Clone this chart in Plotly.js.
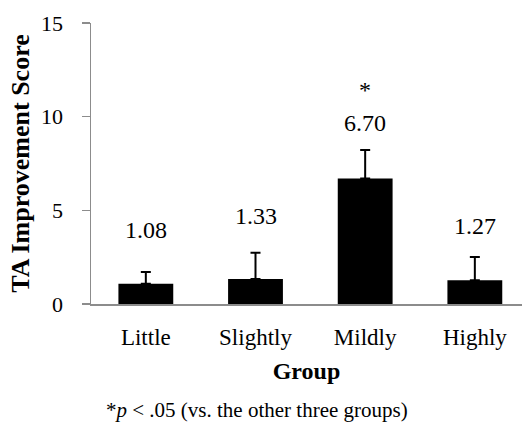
<!DOCTYPE html>
<html>
<head>
<meta charset="utf-8">
<script src="https://cdn.plot.ly/plotly-3.0.1.min.js"></script>
<style>html,body{margin:0;padding:0;background:#fff;}#chart{width:522px;height:424px;}</style>
</head>
<body>
<div id="chart"></div>
<script>
// ---- data ----
var groups = ["Little", "Slightly", "Mildly", "Highly"];
var means = [1.08, 1.33, 6.70, 1.27];
var errorsUp = [0.63, 1.40, 1.52, 1.24];
var valueLabels = ["1.08", "1.33", "6.70", "1.27"];
var significant = [false, false, true, false];
var yTicks = [0, 5, 10, 15];

// ---- layout helpers (label placement, not data) ----
var labelY = [3.95, 4.70, 9.66, 4.16];
var starY = 11.45;

var font = "Liberation Serif";

var annotations = [];
for (var i = 0; i < groups.length; i++) {
  annotations.push({
    x: groups[i], y: labelY[i], xref: "x", yref: "y",
    text: valueLabels[i], showarrow: false,
    font: {family: font, size: 24, color: "#000"},
    xanchor: "center", yanchor: "middle"
  });
  if (significant[i]) {
    annotations.push({
      x: groups[i], y: starY, xref: "x", yref: "y",
      text: "*", showarrow: false,
      font: {family: font, size: 24, color: "#000"},
      xanchor: "center", yanchor: "middle"
    });
  }
}
annotations.push({
  x: 0.386, y: -0.377, xref: "paper", yref: "paper",
  text: "*<i>p</i> < .05 (vs. the other three groups)", showarrow: false,
  font: {family: font, size: 21, color: "#000"},
  xanchor: "center", yanchor: "middle"
});

var trace = {
  type: "bar",
  x: groups,
  y: means,
  marker: {color: "#000", line: {width: 0}},
  error_y: {
    type: "data", symmetric: false,
    array: errorsUp, arrayminus: groups.map(function(){return 0;}),
    color: "#000", thickness: 2, width: 5, visible: true
  },
  hoverinfo: "none"
};

var layout = {
  width: 522, height: 424,
  margin: {l: 91, r: 0, t: 23, b: 120, pad: 0},
  paper_bgcolor: "#fff", plot_bgcolor: "#fff",
  showlegend: false,
  bargap: 0.5,
  font: {family: font, color: "#000"},
  xaxis: {
    type: "category",
    range: [-0.5, 3.43],
    showline: true, linecolor: "#8c8c8c", linewidth: 1.5,
    ticks: "", showgrid: false, zeroline: false,
    ticklabelstandoff: 12,
    tickfont: {family: font, size: 23, color: "#000"},
    title: {text: "<b>Group</b>", font: {family: font, size: 24, color: "#000"}, standoff: 13}
  },
  yaxis: {
    range: [0, 15],
    tickvals: yTicks,
    showline: true, linecolor: "#8c8c8c", linewidth: 1.5,
    ticks: "outside", ticklen: 8, tickcolor: "#8c8c8c", tickwidth: 1.5,
    ticklabelstandoff: 14,
    showgrid: false, zeroline: false,
    tickfont: {family: font, size: 22, color: "#000"},
    title: {text: "<b>TA Improvement Score</b>", font: {family: font, size: 26, color: "#000"}, standoff: 4}
  },
  annotations: annotations
};

Plotly.newPlot("chart", [trace], layout, {staticPlot: true, displayModeBar: false});
</script>
</body>
</html>
